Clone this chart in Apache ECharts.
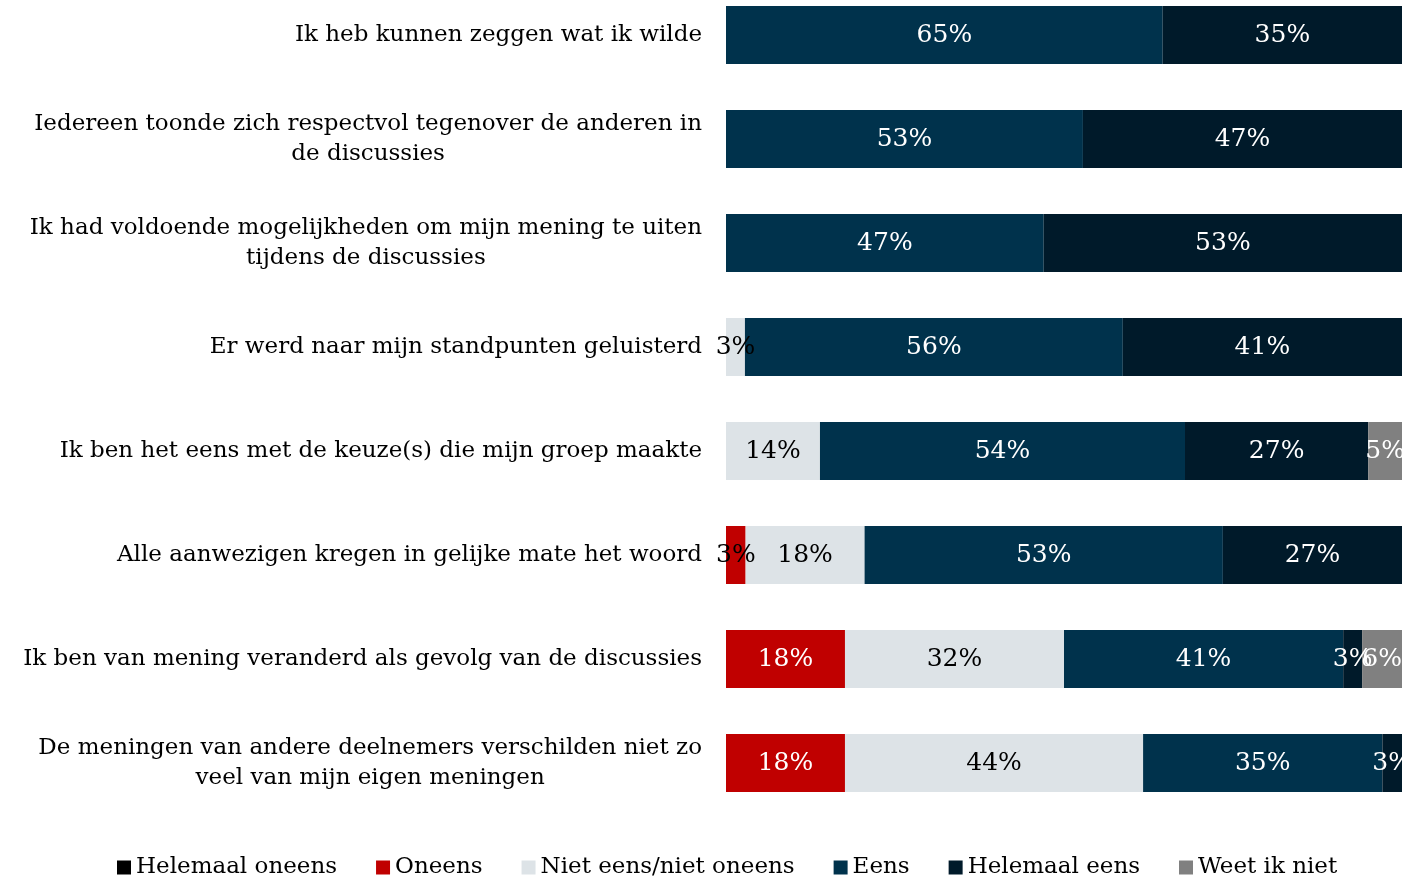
<!DOCTYPE html>
<html>
<head>
<meta charset="utf-8">
<script src="https://cdn.jsdelivr.net/npm/echarts@6/dist/echarts.min.js"></script>
<style>
  html, body { margin: 0; padding: 0; background: #fff; }
  #chart { width: 1411px; height: 879px; }
</style>
</head>
<body>
<div id="chart"></div>
<script>
// statements, top to bottom
const statements = [
  'Ik heb kunnen zeggen wat ik wilde',
  'Iedereen toonde zich respectvol tegenover de anderen in\nde discussies',
  'Ik had voldoende mogelijkheden om mijn mening te uiten\ntijdens de discussies',
  'Er werd naar mijn standpunten geluisterd',
  'Ik ben het eens met de keuze(s) die mijn groep maakte',
  'Alle aanwezigen kregen in gelijke mate het woord',
  'Ik ben van mening veranderd als gevolg van de discussies',
  'De meningen van andere deelnemers verschilden niet zo\nveel van mijn eigen meningen'
];

// percentages per answer, same order as statements
const helemaalOneens = [null, null, null, null, null, null, null, null];
const oneens         = [null, null, null, null, null, 2.9, 17.6, 17.6];
const nietEens       = [null, null, null, 2.8, 13.9, 17.6, 32.4, 44.1];
const eens           = [64.6, 52.8, 47.0, 55.9, 54.0, 53.0, 41.3, 35.4];
const helemaalEens   = [35.4, 47.2, 53.0, 41.3, 27.1, 26.5, 2.8, 2.9];
const weetIkNiet     = [null, null, null, null, 5.0, null, 5.9, null];

const font = 'DejaVu Serif';

function makeSeries(name, data, color, labelColor) {
  return {
    name: name,
    type: 'bar',
    stack: 'total',
    barWidth: 58,
    data: data,
    itemStyle: { color: color },
    label: {
      show: true,
      position: 'inside',
      color: labelColor,
      fontFamily: font,
      fontSize: 25,
      formatter: p => Math.round(p.value) + '%'
    }
  };
}

const series = [
  makeSeries('Helemaal oneens', helemaalOneens, '#000000', '#ffffff'),
  makeSeries('Oneens', oneens.map((v, i) => i === 5 ? { value: v, label: { color: '#000' } } : v), '#c00000', '#ffffff'),
  makeSeries('Niet eens/niet oneens', nietEens, '#dde3e7', '#000000'),
  makeSeries('Eens', eens, '#00324c', '#ffffff'),
  makeSeries('Helemaal eens', helemaalEens, '#001a2a', '#ffffff'),
  makeSeries('Weet ik niet', weetIkNiet, '#808080', '#ffffff')
];

const chart = echarts.init(document.getElementById('chart'));
chart.setOption({
  animation: false,
  grid: { left: 726, right: 9, top: 35, bottom: 116 },
  xAxis: { type: 'value', min: 0, max: 100, show: false },
  yAxis: {
    type: 'category',
    data: statements,
    inverse: true,
    boundaryGap: false,
    axisLine: { show: false },
    axisTick: { show: false },
    splitLine: { show: false },
    axisLabel: {
      margin: 24,
      color: '#000',
      fontFamily: font,
      fontSize: 23,
      lineHeight: 30,
      formatter: v => v.split('\n').map(l => '{c|' + l + '}').join('\n'),
      rich: {
        c: { align: 'center', fontFamily: font, fontSize: 23, lineHeight: 30, color: '#000' }
      }
    }
  },
  legend: {
    top: 851,
    left: 112,
    itemWidth: 14,
    itemHeight: 14,
    itemGap: 39,
    icon: 'rect',
    textStyle: { fontFamily: font, fontSize: 23, color: '#000' },
    data: series.map(s => s.name)
  },
  series: series
});
</script>
</body>
</html>
